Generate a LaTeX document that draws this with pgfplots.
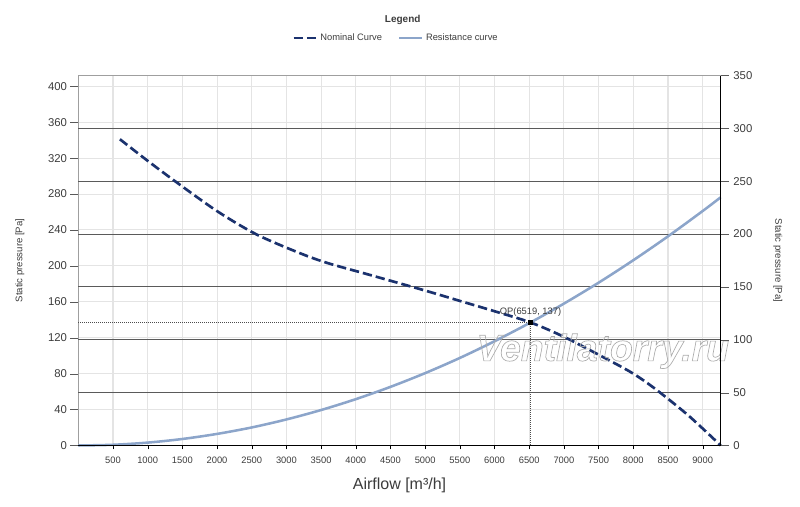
\documentclass[border=0pt]{standalone}
\usepackage{fontspec}
\setmainfont{Liberation Sans}
\usepackage{pgfplots}
\pgfplotsset{compat=1.18}
\definecolor{nom}{RGB}{27,50,110}
\definecolor{res}{RGB}{140,165,202}
\definecolor{gridl}{RGB}{228,228,228}
\definecolor{gridd}{RGB}{90,90,90}
\definecolor{txt}{RGB}{60,60,60}
\begin{document}
\begin{tikzpicture}
\useasboundingbox (0,0) rectangle (600pt,380.25pt);
\begin{axis}[
  at={(58.725pt,46.125pt)}, anchor=south west,
  scale only axis, width=481.8pt, height=277.5pt,
  xmin=0, xmax=9260, ymin=0, ymax=412,
  clip=false,
  xtick={500,1000,...,9000},
  ytick={0,40,...,400},
  xtick pos=left, ytick pos=left,
  xticklabel style={font=\fontsize{7}{8}\selectfont, text=txt},
  yticklabel style={font=\fontsize{8.5}{10}\selectfont, text=txt},
  /pgf/number format/assume math mode=true,
  /pgf/number format/set thousands separator={},
  scaled x ticks=false,
  tick align=outside,
  major tick length=5pt,
  xtick style={black, /pgfplots/major tick length=3pt},
  ytick style={gray!70!black, /pgfplots/major tick length=6pt},
  grid=major,
  major grid style={gridl, line width=0.8pt},
  extra y ticks={58.857,117.714,176.571,235.429,294.286,353.143},
  extra y tick labels={},
  extra y tick style={grid=major, major grid style={gridd, line width=0.8pt}, tick style={draw=none}},
  axis line style={gray!75},
  xlabel={Airflow [m³/h]},
  xlabel style={at={(axis description cs:0.5,-0.107)}, anchor=center, font=\fontsize{12}{14}\selectfont, text=txt},
  ylabel={Static pressure [Pa]},
  ylabel style={at={(axis description cs:-0.0908,0.5)}, anchor=center, font=\fontsize{7.2}{8}\selectfont, text=txt},
  legend style={at={(0.495,1.101)}, anchor=center, draw=none, fill=none, legend columns=2,
    font=\fontsize{7}{8}\selectfont, text=txt,
    /tikz/every even column/.append style={column sep=10pt}},
]
\addplot[nom, line width=2pt, dash pattern=on 7pt off 3pt, smooth] coordinates {
(600,341) (1000,317) (1400,294) (2000,261) (2570,235) (3200,214) (3600,203)
(4200,190) (5000,172.5) (5500,161) (6000,149.5) (6519,137) (7000,121)
(7600,97) (8000,80) (8334,62) (8800,33) (9260,0)};
\addlegendentry{Nominal Curve}
\addplot[res, line width=1.9pt, smooth] coordinates {
(0,0) (500,0.81) (1000,3.22) (1500,7.25) (2000,12.9) (2500,20.1) (3000,29.0)
(3500,39.5) (4000,51.6) (4500,65.3) (5000,80.6) (5500,97.5) (6000,116.1)
(6519,137) (7000,158.0) (7500,181.3) (8000,206.3) (8500,232.9) (9000,261.1) (9260,276.4)};
\addlegendentry{Resistance curve}
\addplot[forget plot, gray!60!black, line width=0.5pt, densely dotted] coordinates {(0,137) (6519,137) (6519,0)};
\addplot[forget plot, only marks, mark=square*, mark size=1.6pt, black] coordinates {(6519,137)}
  node[above, yshift=1pt, font=\fontsize{7}{8}\selectfont, text=txt] {OP(6519, 137)};
\draw[black, line width=0.8pt] (rel axis cs:0,0) -- (rel axis cs:1,0);
\node[font=\bfseries\itshape\fontsize{28}{30}\selectfont, text=gray!65, inner sep=0pt]
  at (axis cs:7560,105) {\special{pdf:literal 1 Tr 0.5 w}Ventilatorry.ru\special{pdf:literal 0 Tr}};
\node[font=\bfseries\fontsize{7.5}{9}\selectfont, text=txt] at (rel axis cs:0.505,1.15) {Legend};
\end{axis}
\begin{axis}[
  at={(58.725pt,46.125pt)}, anchor=south west,
  scale only axis, width=481.8pt, height=277.5pt,
  xmin=0, xmax=9260, ymin=0, ymax=350,
  axis x line=none, axis y line*=right,
  ytick={0,50,...,350},
  tick align=outside,
  major tick length=6pt,
  ytick style={gray!70!black},
  y axis line style={black, line width=0.8pt},
  yticklabel style={font=\fontsize{8.5}{10}\selectfont, text=txt},
  /pgf/number format/assume math mode=true,
  ylabel={Static pressure [Pa]},
  ylabel style={at={(axis description cs:1.089,0.5)}, anchor=center, rotate=180, font=\fontsize{7.2}{8}\selectfont, text=txt},
]
\end{axis}
\end{tikzpicture}
\end{document}
